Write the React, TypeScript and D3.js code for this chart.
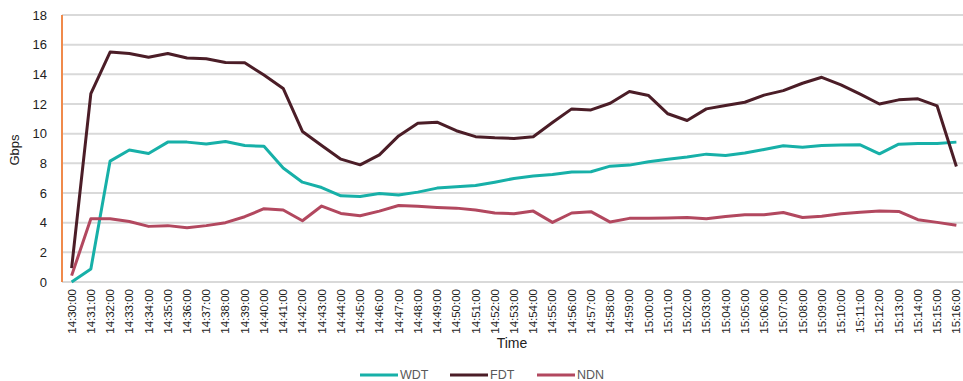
import React from "react";
import * as d3 from "d3";

const times: string[] = [
  "14:30:00","14:31:00","14:32:00","14:33:00","14:34:00","14:35:00","14:36:00","14:37:00","14:38:00","14:39:00",
  "14:40:00","14:41:00","14:42:00","14:43:00","14:44:00","14:45:00","14:46:00","14:47:00","14:48:00","14:49:00",
  "14:50:00","14:51:00","14:52:00","14:53:00","14:54:00","14:55:00","14:56:00","14:57:00","14:58:00","14:59:00",
  "15:00:00","15:01:00","15:02:00","15:03:00","15:04:00","15:05:00","15:06:00","15:07:00","15:08:00","15:09:00",
  "15:10:00","15:11:00","15:12:00","15:13:00","15:14:00","15:15:00","15:16:00",
];

const wdt: number[] = [
  0.0, 0.88, 8.15, 8.9, 8.66, 9.43, 9.43, 9.3, 9.47, 9.2,
  9.15, 7.68, 6.73, 6.37, 5.81, 5.77, 5.97, 5.86, 6.06, 6.33,
  6.42, 6.5, 6.73, 6.98, 7.14, 7.25, 7.41, 7.43, 7.81, 7.88,
  8.1, 8.28, 8.42, 8.62, 8.53, 8.69, 8.93, 9.18, 9.09, 9.2,
  9.23, 9.25, 8.64, 9.29, 9.34, 9.34, 9.43,
];

const fdt: number[] = [
  0.94, 12.7, 15.5, 15.4, 15.15, 15.4, 15.1, 15.05, 14.8, 14.78,
  13.95, 13.05, 10.15, 9.2, 8.28, 7.9, 8.57, 9.85, 10.7, 10.77,
  10.2, 9.8, 9.72, 9.68, 9.79, 10.75, 11.67, 11.6, 12.05, 12.84,
  12.57, 11.34, 10.89, 11.67, 11.9, 12.12, 12.6, 12.9, 13.4, 13.8,
  13.29, 12.66, 12.0, 12.28, 12.35, 11.87, 7.79,
];

const ndn: number[] = [
  0.43, 4.26, 4.26, 4.08, 3.75, 3.8, 3.66, 3.8, 4.0, 4.4,
  4.94, 4.85, 4.13, 5.12, 4.62, 4.47, 4.78, 5.16, 5.1, 5.03,
  4.98, 4.85, 4.65, 4.6, 4.78, 4.02, 4.65, 4.74, 4.04, 4.29,
  4.29, 4.31, 4.35, 4.26, 4.42, 4.53, 4.53, 4.69, 4.35, 4.44,
  4.6, 4.71, 4.78, 4.76, 4.2, 4.02, 3.82,
];

const yTicks: number[] = [0, 2, 4, 6, 8, 10, 12, 14, 16, 18];

const seriesNames = ["WDT", "FDT", "NDN"];
const seriesColors = ["#17b0a8", "#4b1d27", "#b2485f"];
const seriesData = [wdt, fdt, ndn];

export default function App() {
  const W = 963, H = 381;
  const left = 62, right = 966, top = 15, bottom = 282;
  const x = d3.scaleBand<string>().domain(times).range([left, right]);
  const y = d3.scaleLinear().domain([0, 18]).range([bottom, top]);
  const cx = (t: string) => (x(t) as number) + x.bandwidth() / 2;
  const line = d3.line<number>()
    .x((_, i) => cx(times[i]))
    .y((d) => y(d));
  const font = "Liberation Sans, Arial, sans-serif";
  const legendX = [360, 450, 537];
  return (
    <svg width={W} height={H} style={{ position: "absolute", left: 0, top: 0, background: "#fff" }}
      fontFamily={font}>
      {yTicks.map((t) => (
        <g key={t}>
          <line x1={left} x2={W} y1={y(t)} y2={y(t)} stroke="#d9d9d9" strokeWidth={2} />
          <text x={47} y={y(t)} dy="0.35em" textAnchor="end" fontSize={13} fill="#222">{t}</text>
        </g>
      ))}
      <line x1={left} x2={left} y1={top} y2={bottom} stroke="#f08a4b" strokeWidth={2} />
      <text transform={`translate(19,150) rotate(-90)`} textAnchor="middle" fontSize={13} fill="#222">Gbps</text>
      {times.map((t) => (
        <text key={t} transform={`translate(${cx(t) + 4},289) rotate(-90)`} textAnchor="end" fontSize={11.5} fill="#222">{t}</text>
      ))}
      <text x={512} y={348} textAnchor="middle" fontSize={14} fill="#222">Time</text>
      {seriesData.map((d, k) => (
        <path key={k} d={line(d) || ""} fill="none" stroke={seriesColors[k]} strokeWidth={3} strokeLinejoin="round" />
      ))}
      {seriesNames.map((n, k) => (
        <g key={n}>
          <line x1={legendX[k]} x2={legendX[k] + 38} y1={375} y2={375} stroke={seriesColors[k]} strokeWidth={3} />
          <text x={legendX[k] + 40} y={375} dy="0.35em" fontSize={12.5} fill="#595959">{n}</text>
        </g>
      ))}
    </svg>
  );
}
